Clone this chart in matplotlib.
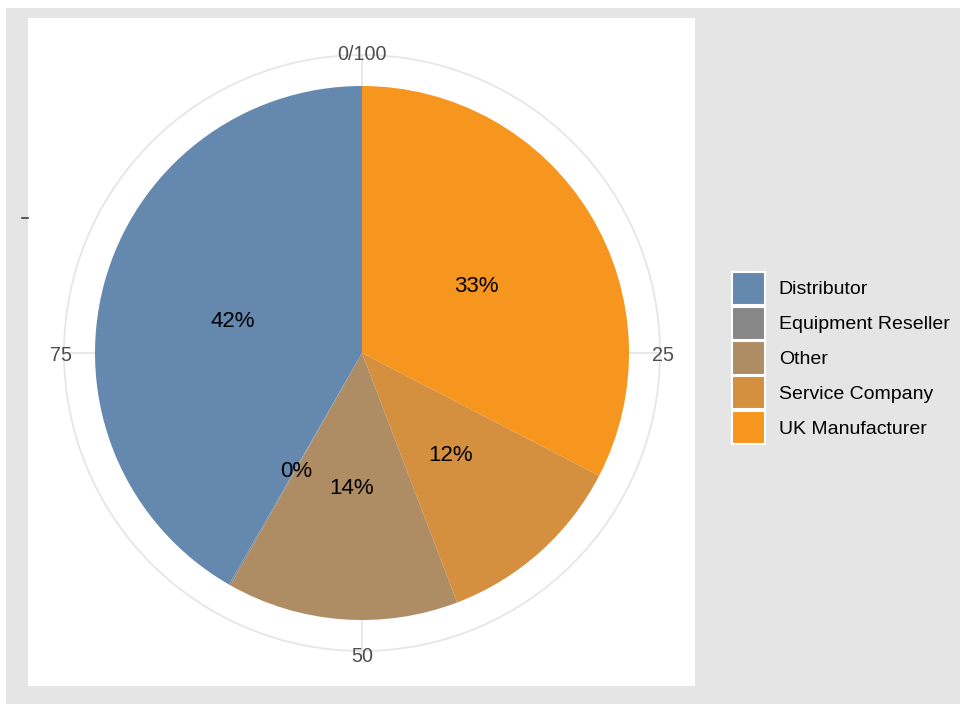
import matplotlib
matplotlib.use('Agg')
import matplotlib.pyplot as plt
from matplotlib.patches import Rectangle, Patch, Circle
import numpy as np

# data (percent share), pie order clockwise from top
pie_labels = ['UK Manufacturer', 'Service Company', 'Other', 'Equipment Reseller', 'Distributor']
pie_values = [32.6, 11.6, 14.0, 0.1, 41.7]
pie_colors = ['#F7961E', '#D48F3F', '#AE8C64', '#878787', '#6588AE']
legend_order = ['Distributor', 'Equipment Reseller', 'Other', 'Service Company', 'UK Manufacturer']
theta_breaks = [0, 25, 50, 75]
theta_labels = ['0/100', '25', '50', '75']

plt.rcParams['font.family'] = ['Liberation Sans', 'DejaVu Sans']

W, H = 960, 704
fig = plt.figure(figsize=(W / 100, H / 100), dpi=100)
fig.patch.set_facecolor('white')

# panel in pixel units
px0, px1, py0, py1 = 28, 695, 18, 686
cx, cy = 362, 353

# grey plot background and white panel
fig.add_artist(Rectangle((6 / W, 0), 1, 1 - 8 / H, transform=fig.transFigure,
                         facecolor='#E5E5E5', edgecolor='none', zorder=-10))
fig.add_artist(Rectangle((px0 / W, 1 - py1 / H), (px1 - px0) / W, (py1 - py0) / H,
                         transform=fig.transFigure, facecolor='white', edgecolor='none', zorder=-9))

ax = fig.add_axes([px0 / W, 1 - py1 / H, (px1 - px0) / W, (py1 - py0) / H])

R = 267
Rgrid = 298
wedges, texts, autotexts = ax.pie(pie_values, colors=pie_colors, startangle=90, counterclock=False,
                                  radius=R, autopct=lambda p: '%.0f%%' % p, pctdistance=0.5,
                                  wedgeprops=dict(linewidth=0, zorder=3),
                                  textprops=dict(fontsize=16, color='black'))
for t in autotexts:
    t.set_zorder(5)
    t.set_va('center_baseline')

# grid: outer circle and spokes
ax.add_patch(Circle((0, 0), Rgrid, fill=False, edgecolor='#E6E6E6', linewidth=1.3, zorder=1))
for b, lab in zip(theta_breaks, theta_labels):
    ang = np.pi / 2 - 2 * np.pi * b / 100
    ax.plot([0, Rgrid * np.cos(ang)], [0, Rgrid * np.sin(ang)], color='#E6E6E6', lw=1.3, zorder=1)
    ax.text(301 * np.cos(ang), 301 * np.sin(ang), lab, ha='center', va='center_baseline',
            fontsize=14.2, color='#4D4D4D', zorder=2)

ax.set_xlim(px0 - cx, px1 - cx)
ax.set_ylim(cy - py1, cy - py0)
ax.set_aspect('auto')
ax.set_xticks([])
ax.set_yticks([])
for s in ax.spines.values():
    s.set_visible(False)

# small axis tick on the left
ax.plot([22 - cx, 28 - cx], [cy - 218, cy - 218], color='#333333', lw=1.1, clip_on=False)

# legend
col = dict(zip(pie_labels, pie_colors))
handles = [Patch(facecolor=col[l], edgecolor='white', linewidth=1.5) for l in legend_order]
leg = fig.legend(handles, legend_order, loc='upper left', bbox_to_anchor=(726 / W, 1 - 266 / H),
                 frameon=False, fontsize=14, handlelength=1.71, handleheight=2.25,
                 labelspacing=0.08, handletextpad=0.7, borderpad=0.3, borderaxespad=0)

plt.savefig('out.png', dpi=100)
